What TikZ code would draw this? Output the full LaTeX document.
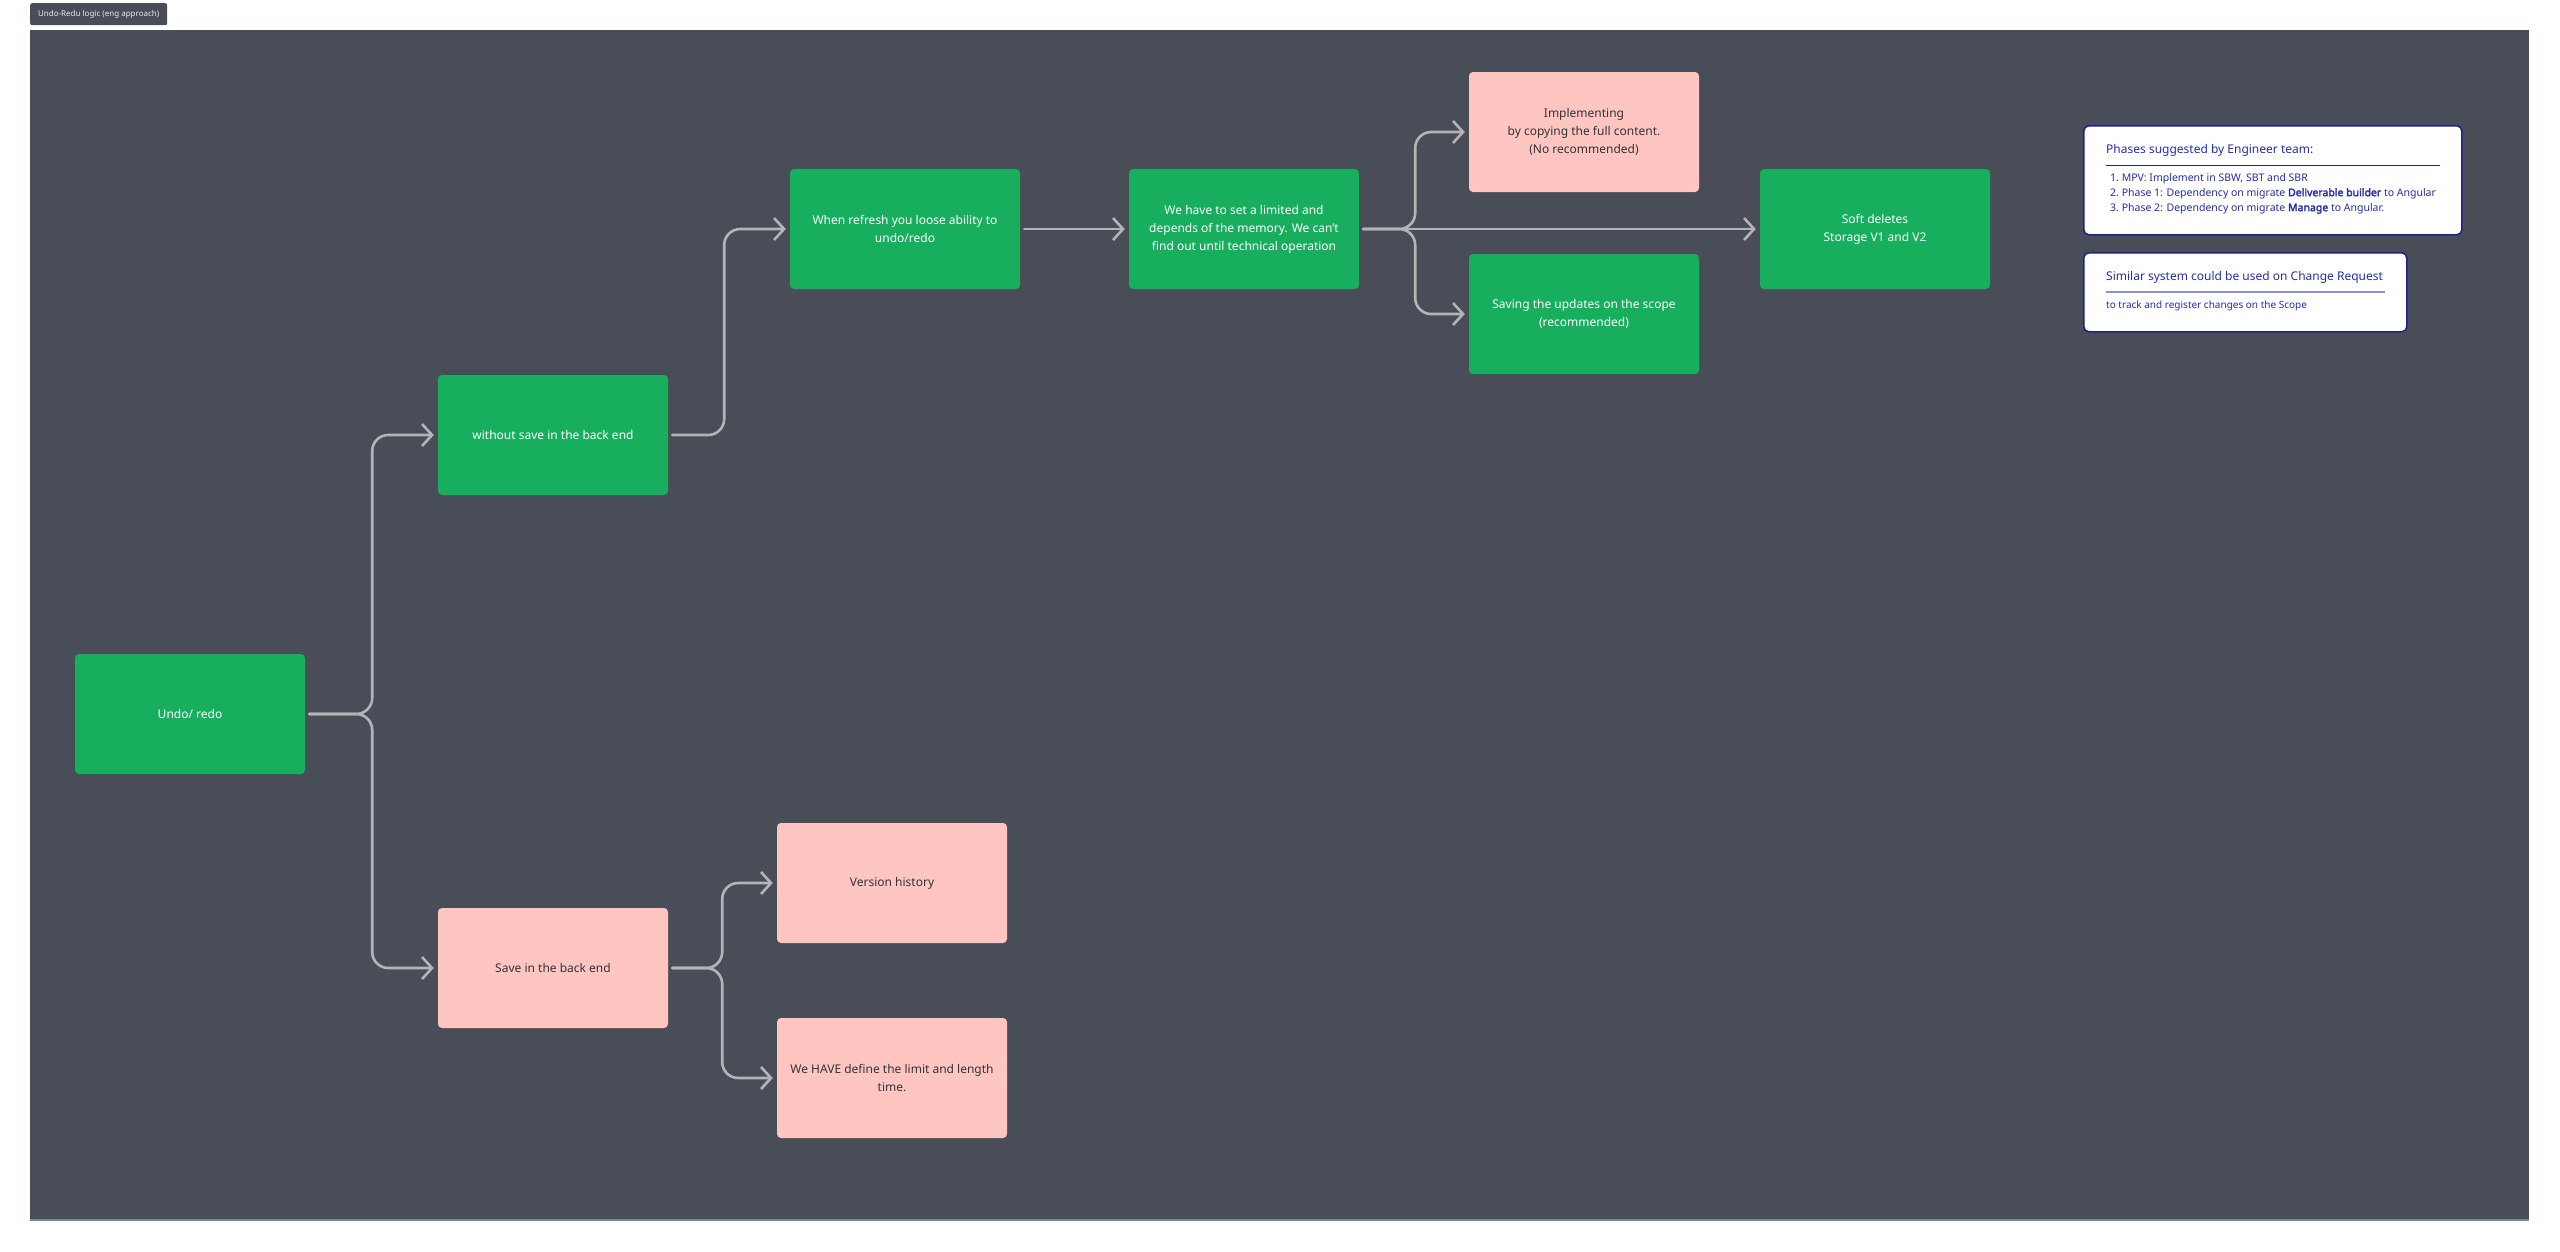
\documentclass[tikz,border=0pt]{standalone}
\usepackage{fontspec}
\setsansfont{Noto Sans}[BoldFont={Noto Sans}, BoldFeatures={FakeBold=2.5}]
\usetikzlibrary{arrows.meta,positioning,calc}
\definecolor{udbg}{RGB}{73,77,88}
\definecolor{udedge}{RGB}{128,133,145}
\definecolor{udgreen}{RGB}{23,174,94}
\definecolor{udpink}{RGB}{255,198,193}
\definecolor{udline}{RGB}{180,180,182}
\definecolor{udnavy}{RGB}{30,34,140}
\definecolor{udblue}{RGB}{38,46,170}
\definecolor{udrule}{RGB}{140,145,215}
\definecolor{udink}{RGB}{51,51,56}
\tikzset{
  udbox/.style={
    rounded corners=4pt, align=center, inner sep=0pt,
    minimum width=230pt, minimum height=120pt,
    font=\fontsize{12}{18}\selectfont\sffamily
  },
  good/.style={udbox, fill=udgreen, text=white},
  weak/.style={udbox, fill=udpink, text=udink},
  note/.style={draw=udnavy, line width=1.6pt, fill=white, rounded corners=5pt, inner sep=0pt},
  notehead/.style={anchor=west, inner sep=0pt, text=udblue, font=\fontsize{12}{14}\selectfont\sffamily},
  notetext/.style={anchor=north west, inner sep=0pt, align=left, text=udblue, font=\fontsize{10.5}{15}\selectfont\sffamily},
  tag/.style={fill=udbg, rounded corners=2pt, text=white!92!black, inner sep=0pt,
    minimum width=137pt, minimum height=22pt, font=\fontsize{8}{10}\selectfont\sffamily},
  arr/.style={-{Straight Barb[length=10pt,width=22pt]}, draw=udline, line width=2.6pt,
    rounded corners=16pt, line cap=round, shorten <=4pt, shorten >=4pt},
  every picture/.append style={x=1pt, y=-1pt, line join=round}
}
\begin{document}
\begin{tikzpicture}
  \useasboundingbox (0,0) rectangle (2560,1251);
  \fill[white] (0,0) rectangle (2560,1251);
  \fill[udbg] (30,30) rectangle (2529,1220);
  \draw[udedge, line width=1.5pt] (30,1220) -- (2529,1220);
  \node[tag, anchor=north west] (title) at (30,3) {Undo-Redu logic (eng approach)};

  % main flow
  \node[good] (undo) at (190,714) {Undo/ redo};
  \node[good] (wosave) at (553,435) {without save in the back end};
  \node[weak] (save) at (553,968) {Save in the back end};
  \node[good] (refresh) at (905,229) {When refresh you loose ability to\\undo/redo};
  \node[good] (limit) at (1244,229) {We have to set a limited and\\depends of the memory. We can't\\find out until technical operation};
  \node[weak] (copy) at (1584,132) {Implementing\\by copying the full content.\\(No recommended)};
  \node[good] (scope) at (1584,314) {Saving the updates on the scope\\(recommended)};
  \node[good] (soft) at (1875,229) {Soft deletes\\Storage V1 and V2};
  \node[weak] (version) at (892,883) {Version history};
  \node[weak] (define) at (892,1078) {We HAVE define the limit and length\\time.};

  \coordinate (j1) at ($(undo.east)+(67,0)$);
  \coordinate (j2) at ($(wosave.east)+(56,0)$);
  \coordinate (j3) at ($(limit.east)+(56,0)$);
  \coordinate (j4) at ($(save.east)+(54,0)$);

  \draw[arr] (undo.east) -- (j1) -- (j1 |- wosave.west) -- (wosave.west);
  \draw[arr] (undo.east) -- (j1) -- (j1 |- save.west) -- (save.west);
  \draw[arr] (wosave.east) -- (j2) -- (j2 |- refresh.west) -- (refresh.west);
  \draw[arr] (refresh) -- (limit);
  \draw[arr] (limit.east) -- (j3) -- (j3 |- copy.west) -- (copy.west);
  \draw[arr] (limit.east) -- (j3) -- (j3 |- scope.west) -- (scope.west);
  \draw[arr] (limit) -- (soft);
  \draw[arr] (save.east) -- (j4) -- (j4 |- version.west) -- (version.west);
  \draw[arr] (save.east) -- (j4) -- (j4 |- define.west) -- (define.west);

  % notes
  \node[note, anchor=north west, minimum width=378pt, minimum height=109pt] (phases) at (2083,125) {};
  \node[notehead] (phhead) at ($(phases.north west)+(23,25)$) {Phases suggested by Engineer team:};
  \draw[udnavy, line width=1pt] ($(phases.north west)+(23,40)$) -- ($(phases.north east)+(-23,40)$);
  \node[notetext] (phlist) at ($(phases.north west)+(27,48)$)
    {1.\ MPV: Implement in SBW, SBT and SBR\\
     2.\ Phase 1: Dependency on migrate \textbf{Deliverable builder} to Angular\\
     3.\ Phase 2: Dependency on migrate \textbf{Manage} to Angular.};

  \node[note, anchor=north west, minimum width=323pt, minimum height=79pt] (similar) at (2083,252) {};
  \node[notehead] (smhead) at ($(similar.north west)+(23,25)$) {Similar system could be used on Change Request};
  \draw[udrule, line width=1.2pt] ($(similar.north west)+(23,40)$) -- ($(similar.north east)+(-23,40)$);
  \node[notetext, anchor=west, font=\fontsize{10}{12}\selectfont\sffamily] (smtext) at ($(similar.north west)+(23,54)$)
    {to track and register changes on the Scope};
\end{tikzpicture}
\end{document}
